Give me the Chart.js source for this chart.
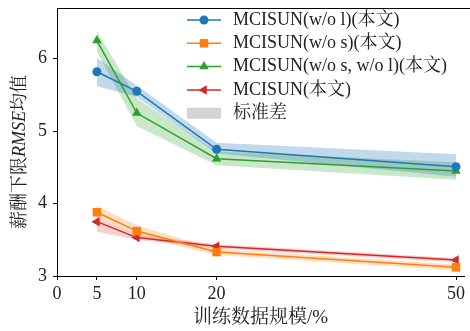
<!DOCTYPE html>
<html>
<head>
<meta charset="utf-8">
<script src="https://cdn.jsdelivr.net/npm/chart.js@4.4.1/dist/chart.umd.min.js"></script>
<style>
  html, body { margin: 0; padding: 0; background: #fff; }
  #wrap { width: 470px; height: 331px; }
</style>
</head>
<body>
<div id="wrap"><canvas id="c" width="470" height="331"></canvas></div>
<script>
// Training data share (%) on the x axis
const sizes = [5, 10, 20, 50];
const xTicks = [0, 5, 10, 20, 50];
const yTicks = [3, 4, 5, 6];

// Mean RMSE of the salary lower bound per model variant
const woL = [5.82, 5.55, 4.75, 4.51];
const woS = [3.88, 3.62, 3.33, 3.12];
const woSL = [6.25, 5.25, 4.62, 4.45];
const full = [3.75, 3.53, 3.41, 3.22];

// Standard-deviation band edges
const woLLow = [5.62, 5.47, 4.69, 4.37];
const woLHigh = [6.01, 5.63, 4.84, 4.68];
const woSLow = [3.80, 3.56, 3.29, 3.08];
const woSHigh = [3.97, 3.70, 3.37, 3.16];
const woSLLow = [6.10, 5.07, 4.53, 4.33];
const woSLHigh = [6.38, 5.45, 4.72, 4.57];
const fullLow = [3.61, 3.50, 3.38, 3.19];
const fullHigh = [3.80, 3.57, 3.44, 3.25];

const names = ['MCISUN(w/o l)(本文)', 'MCISUN(w/o s)(本文)', 'MCISUN(w/o s, w/o l)(本文)', 'MCISUN(本文)'];
const stdLabel = '标准差';
const xTitle = '训练数据规模/%';

const SERIF = "'Liberation Serif', 'Noto Serif CJK SC', 'Noto Sans CJK SC', serif";

const series = [
  { name: names[0], values: woL, low: woLLow, high: woLHigh, color: '#1f77b4', band: 'rgba(31,119,180,0.28)', style: 'circle', radius: 4.5, rotation: 0 },
  { name: names[1], values: woS, low: woSLow, high: woSHigh, color: '#ff7f0e', band: 'rgba(255,127,14,0.25)', style: 'rect', radius: 6, rotation: 0 },
  { name: names[2], values: woSL, low: woSLLow, high: woSLHigh, color: '#2ca02c', band: 'rgba(44,160,44,0.25)', style: 'triangle', radius: 5.5, rotation: 0 },
  { name: names[3], values: full, low: fullLow, high: fullHigh, color: '#d62728', band: 'rgba(214,39,40,0.22)', style: 'triangle', radius: 5.5, rotation: -90 }
];

const pts = arr => arr.map((v, i) => ({ x: sizes[i], y: v }));

const datasets = [];
series.forEach(s => {
  const hiIdx = datasets.length;
  datasets.push({
    label: s.name + ' upper', data: pts(s.high), borderWidth: 0, pointRadius: 0,
    borderColor: 'transparent', fill: false, order: 2
  });
  datasets.push({
    label: s.name + ' lower', data: pts(s.low), borderWidth: 0, pointRadius: 0,
    borderColor: 'transparent', backgroundColor: s.band, fill: { target: hiIdx }, order: 2
  });
});
series.forEach(s => {
  datasets.push({
    label: s.name, data: pts(s.values), borderColor: s.color, backgroundColor: s.color,
    borderWidth: 1.5, pointStyle: s.style, pointRadius: s.radius, pointRotation: s.rotation,
    pointBorderWidth: 0, pointBackgroundColor: s.color, fill: false, order: 0
  });
});

// Legend box drawn inside the plot, top right
const legendPlugin = {
  id: 'innerLegend',
  afterDraw(chart) {
    const ctx = chart.ctx;
    const x0 = 187, x1 = 221, tx = 233, y0 = 20, dy = 23.3;
    ctx.save();
    ctx.font = '18px ' + SERIF;
    ctx.textBaseline = 'middle';
    ctx.textAlign = 'left';
    series.forEach((s, i) => {
      const y = y0 + i * dy;
      ctx.strokeStyle = s.color;
      ctx.lineWidth = 1.5;
      ctx.beginPath(); ctx.moveTo(x0, y); ctx.lineTo(x1, y); ctx.stroke();
      ctx.fillStyle = s.color;
      Chart.helpers.drawPoint(ctx, { pointStyle: s.style, radius: s.radius, rotation: s.rotation, borderWidth: 0 }, (x0 + x1) / 2, y);
      ctx.fillStyle = '#222';
      ctx.fillText(s.name, tx, y);
    });
    const yb = y0 + 4 * dy;
    ctx.fillStyle = '#d4d4d4';
    ctx.fillRect(x0, yb - 5.5, x1 - x0, 11);
    ctx.fillStyle = '#222';
    ctx.fillText(stdLabel, tx, yb);
    ctx.restore();
  }
};

// Top frame line and y-axis title with italic RMSE
const framePlugin = {
  id: 'frame',
  afterDraw(chart) {
    const { ctx, chartArea } = chart;
    ctx.save();
    ctx.strokeStyle = '#000';
    ctx.lineWidth = 1;
    ctx.beginPath();
    ctx.moveTo(chartArea.left, chartArea.top + 0.5);
    ctx.lineTo(470, chartArea.top + 0.5);
    ctx.stroke();

    const parts = [
      { t: '薪酬下限', f: '18px ' + SERIF },
      { t: 'RMSE', f: 'italic 18px ' + SERIF },
      { t: '均值', f: '18px ' + SERIF }
    ];
    let total = 0;
    parts.forEach(p => { ctx.font = p.f; p.w = ctx.measureText(p.t).width; total += p.w; });
    ctx.translate(20, 152);
    ctx.rotate(-Math.PI / 2);
    ctx.fillStyle = '#222';
    ctx.textBaseline = 'middle';
    ctx.textAlign = 'left';
    let cx = -total / 2;
    parts.forEach(p => { ctx.font = p.f; ctx.fillText(p.t, cx, 0); cx += p.w; });
    ctx.restore();
  }
};

new Chart(document.getElementById('c'), {
  type: 'line',
  data: { datasets },
  options: {
    responsive: false,
    animation: false,
    layout: { padding: { top: 8, right: 0, left: 0, bottom: 0 } },
    plugins: { legend: { display: false }, tooltip: { enabled: false } },
    elements: { line: { tension: 0 } },
    scales: {
      x: {
        type: 'linear', min: 0, max: 51,
        afterBuildTicks: s => { s.ticks = xTicks.map(v => ({ value: v })); },
        afterFit: s => { s.height = 55; },
        grid: { display: true, drawOnChartArea: false, tickLength: 4, color: '#000', tickColor: '#000' },
        border: { display: true, color: '#000', width: 1 },
        ticks: { color: '#222', font: { family: SERIF, size: 18 }, padding: 3, maxRotation: 0, autoSkip: false },
        title: { display: true, text: xTitle, color: '#222', font: { family: SERIF, size: 19 }, padding: { top: 0, bottom: 2 } }
      },
      y: {
        type: 'linear', min: 3, max: 6.7,
        afterBuildTicks: s => { s.ticks = yTicks.map(v => ({ value: v })); },
        afterFit: s => { s.width = 57; },
        grid: { display: true, drawOnChartArea: false, tickLength: 4, color: '#000', tickColor: '#000' },
        border: { display: true, color: '#000', width: 1 },
        ticks: { color: '#222', font: { family: SERIF, size: 18, lineHeight: 0.2 }, padding: 6 }
      }
    }
  },
  plugins: [legendPlugin, framePlugin]
});
</script>
</body>
</html>
